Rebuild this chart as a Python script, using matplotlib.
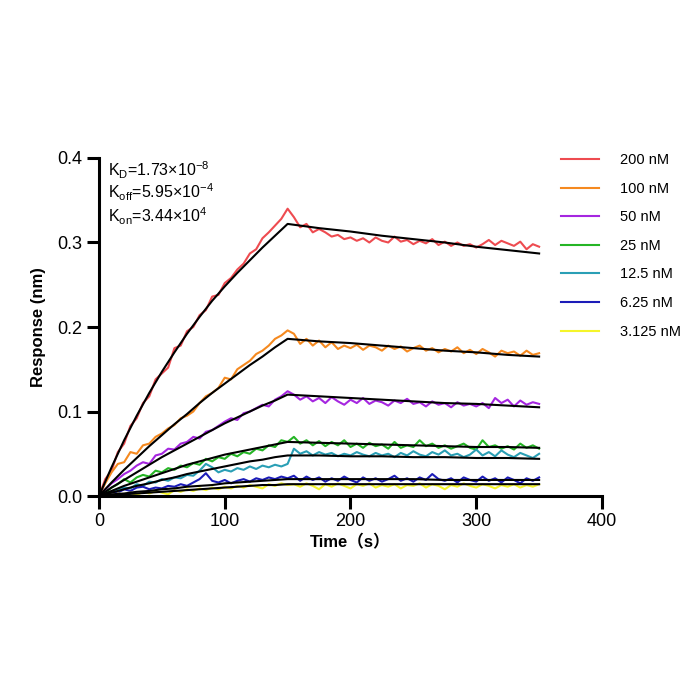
import numpy as np
import matplotlib
matplotlib.use('Agg')
import matplotlib.pyplot as plt

plt.rcParams['font.family'] = ['Liberation Sans', 'Noto Sans CJK SC', 'DejaVu Sans']

# time axis of the measured curves (s)
time = np.arange(0, 351, 5)

r200 = [0.000, 0.020, 0.030, 0.052, 0.062, 0.083, 0.092, 0.110, 0.118, 0.138,
        0.145, 0.152, 0.175, 0.178, 0.195, 0.200, 0.214, 0.220, 0.236, 0.238,
        0.252, 0.258, 0.268, 0.275, 0.287, 0.292, 0.305, 0.312, 0.320, 0.328,
        0.340, 0.330, 0.318, 0.322, 0.312, 0.316, 0.312, 0.307, 0.309, 0.304,
        0.306, 0.302, 0.305, 0.300, 0.306, 0.302, 0.300, 0.307, 0.301, 0.303,
        0.298, 0.302, 0.299, 0.304, 0.297, 0.301, 0.296, 0.300, 0.296, 0.298,
        0.294, 0.298, 0.303, 0.297, 0.302, 0.299, 0.296, 0.301, 0.292, 0.298,
        0.295]
r100 = [0.000, 0.015, 0.028, 0.038, 0.040, 0.052, 0.050, 0.060, 0.062, 0.070,
        0.074, 0.080, 0.084, 0.092, 0.095, 0.100, 0.110, 0.118, 0.122, 0.128,
        0.140, 0.138, 0.150, 0.155, 0.160, 0.168, 0.172, 0.178, 0.186, 0.190,
        0.196, 0.192, 0.180, 0.186, 0.178, 0.184, 0.176, 0.182, 0.174, 0.178,
        0.175, 0.179, 0.173, 0.178, 0.176, 0.172, 0.178, 0.174, 0.177, 0.171,
        0.175, 0.178, 0.172, 0.175, 0.170, 0.174, 0.171, 0.176, 0.169, 0.173,
        0.168, 0.174, 0.170, 0.165, 0.172, 0.169, 0.171, 0.166, 0.172, 0.167,
        0.169]
r50 = [0.000, 0.008, 0.015, 0.020, 0.026, 0.030, 0.036, 0.040, 0.038, 0.048,
       0.050, 0.056, 0.055, 0.062, 0.064, 0.070, 0.068, 0.076, 0.078, 0.083,
       0.088, 0.092, 0.090, 0.098, 0.100, 0.104, 0.108, 0.106, 0.114, 0.118,
       0.124, 0.120, 0.114, 0.118, 0.112, 0.116, 0.110, 0.117, 0.112, 0.108,
       0.114, 0.110, 0.116, 0.109, 0.113, 0.111, 0.107, 0.113, 0.110, 0.115,
       0.109, 0.111, 0.106, 0.112, 0.108, 0.110, 0.105, 0.111, 0.107, 0.109,
       0.106, 0.110, 0.104, 0.116, 0.110, 0.114, 0.106, 0.113, 0.108, 0.111,
       0.109]
r25 = [0.000, 0.004, 0.010, 0.014, 0.020, 0.016, 0.022, 0.025, 0.023, 0.030,
       0.028, 0.033, 0.031, 0.036, 0.034, 0.039, 0.037, 0.044, 0.041, 0.046,
       0.044, 0.050, 0.047, 0.052, 0.050, 0.056, 0.054, 0.060, 0.058, 0.066,
       0.064, 0.070, 0.062, 0.066, 0.060, 0.065, 0.059, 0.064, 0.060, 0.066,
       0.058, 0.062, 0.057, 0.063, 0.059, 0.061, 0.056, 0.064, 0.057, 0.060,
       0.058, 0.066, 0.059, 0.062, 0.057, 0.060, 0.056, 0.059, 0.062, 0.057,
       0.055, 0.066, 0.058, 0.060, 0.056, 0.059, 0.055, 0.062, 0.057, 0.060,
       0.056]
r12 = [0.000, 0.003, 0.005, 0.008, 0.010, 0.009, 0.014, 0.012, 0.017, 0.016,
       0.020, 0.018, 0.022, 0.021, 0.025, 0.024, 0.030, 0.038, 0.034, 0.028,
       0.031, 0.029, 0.033, 0.031, 0.035, 0.032, 0.036, 0.034, 0.037, 0.035,
       0.038, 0.056, 0.050, 0.053, 0.048, 0.052, 0.049, 0.051, 0.047, 0.050,
       0.048, 0.052, 0.049, 0.047, 0.051, 0.048, 0.050, 0.046, 0.051, 0.048,
       0.053, 0.049, 0.047, 0.052, 0.049, 0.054, 0.048, 0.050, 0.046, 0.049,
       0.055, 0.048, 0.052, 0.047, 0.054, 0.049, 0.046, 0.051, 0.048, 0.045,
       0.050]
r6 = [0.000, 0.002, 0.005, 0.004, 0.008, 0.006, 0.010, 0.011, 0.008, 0.010,
      0.009, 0.012, 0.011, 0.014, 0.012, 0.016, 0.020, 0.027, 0.018, 0.016,
      0.019, 0.015, 0.018, 0.020, 0.017, 0.021, 0.019, 0.022, 0.020, 0.023,
      0.021, 0.024, 0.018, 0.023, 0.019, 0.022, 0.017, 0.021, 0.018, 0.023,
      0.019, 0.016, 0.022, 0.018, 0.021, 0.017, 0.020, 0.024, 0.018, 0.021,
      0.017, 0.022, 0.019, 0.026, 0.020, 0.018, 0.021, 0.016, 0.022, 0.019,
      0.017, 0.023, 0.018, 0.021, 0.016, 0.022, 0.019, 0.015, 0.021, 0.018,
      0.022]
r3 = [0.000, 0.001, 0.000, 0.003, 0.002, 0.004, 0.001, 0.005, 0.003, 0.006,
      0.004, 0.002, 0.007, 0.005, 0.008, 0.006, 0.009, 0.007, 0.010, 0.008,
      0.011, 0.009, 0.012, 0.010, 0.013, 0.011, 0.009, 0.014, 0.012, 0.015,
      0.013, 0.014, 0.011, 0.015, 0.012, 0.008, 0.014, 0.011, 0.015, 0.012,
      0.009, 0.014, 0.012, 0.015, 0.010, 0.013, 0.011, 0.014, 0.009, 0.013,
      0.012, 0.015, 0.010, 0.014, 0.012, 0.008, 0.013, 0.011, 0.015, 0.012,
      0.010, 0.014, 0.012, 0.009, 0.013, 0.011, 0.014, 0.010, 0.013, 0.011,
      0.014]

# fitted curves (black)
fit_time = [0, 10, 20, 30, 40, 50, 60, 70, 80, 90, 100, 110, 120, 130, 140, 150,
            175, 200, 225, 250, 275, 300, 325, 350]
f200 = [0, 0.034, 0.066, 0.095, 0.122, 0.147, 0.170, 0.192, 0.212, 0.231, 0.248,
        0.264, 0.279, 0.294, 0.308, 0.322,
        0.317, 0.313, 0.308, 0.304, 0.300, 0.295, 0.291, 0.287]
f100 = [0, 0.016, 0.031, 0.045, 0.059, 0.072, 0.085, 0.097, 0.110, 0.122, 0.133,
        0.144, 0.155, 0.165, 0.176, 0.186,
        0.183, 0.181, 0.178, 0.175, 0.172, 0.170, 0.167, 0.165]
f50 = [0, 0.010, 0.019, 0.028, 0.037, 0.046, 0.054, 0.062, 0.070, 0.078, 0.086,
       0.093, 0.100, 0.107, 0.113, 0.120,
       0.118, 0.116, 0.114, 0.112, 0.110, 0.109, 0.107, 0.105]
f25 = [0, 0.006, 0.012, 0.017, 0.022, 0.027, 0.032, 0.037, 0.041, 0.045, 0.049,
       0.052, 0.055, 0.058, 0.061, 0.064,
       0.063, 0.062, 0.061, 0.060, 0.059, 0.058, 0.058, 0.057]
f12 = [0, 0.004, 0.008, 0.012, 0.015, 0.019, 0.022, 0.026, 0.029, 0.032, 0.035,
       0.038, 0.041, 0.043, 0.046, 0.048,
       0.048, 0.047, 0.047, 0.046, 0.046, 0.045, 0.045, 0.044]
f6 = [0, 0.002, 0.003, 0.005, 0.006, 0.008, 0.009, 0.011, 0.012, 0.013, 0.015,
      0.016, 0.017, 0.018, 0.019, 0.020,
      0.020, 0.020, 0.020, 0.020, 0.019, 0.019, 0.019, 0.019]
f3 = [0, 0.001, 0.002, 0.003, 0.004, 0.005, 0.006, 0.007, 0.008, 0.009, 0.010,
      0.011, 0.012, 0.013, 0.013, 0.014,
      0.014, 0.014, 0.014, 0.014, 0.014, 0.014, 0.014, 0.014]

labels = ['200 nM', '100 nM', '50 nM', '25 nM', '12.5 nM', '6.25 nM', '3.125 nM']
colors = ['#EE4B50', '#F5891F', '#A526E0', '#25B525', '#2A9FB5', '#1C1CB8', '#F5F52A']
measured = [r200, r100, r50, r25, r12, r6, r3]
fits = [f200, f100, f50, f25, f12, f6, f3]

fig = plt.figure(figsize=(7, 7), dpi=100)
ax = fig.add_axes([0.1414, 0.2914, 0.7186, 0.4829])

for y, c, lab in zip(measured, colors, labels):
    ax.plot(time, y, color=c, lw=1.5, label=lab)
for f in fits:
    ax.plot(fit_time, f, color='black', lw=1.5)

ax.set_xlim(0, 400)
ax.set_ylim(0, 0.4)
ax.set_xticks([0, 100, 200, 300, 400])
ax.set_yticks([0.0, 0.1, 0.2, 0.3, 0.4])
ax.set_yticklabels(['0.0', '0.1', '0.2', '0.3', '0.4'])
for s in ['top', 'right']:
    ax.spines[s].set_visible(False)
for s in ['left', 'bottom']:
    ax.spines[s].set_linewidth(2.2)
ax.tick_params(direction='out', length=9, width=2.2, labelsize=13, pad=3)

ax.set_xlabel('Time（s）', fontsize=12, fontweight='bold', labelpad=3)
ax.set_ylabel('Response (nm)', fontsize=12, fontweight='bold', labelpad=8)

ax.text(7, 0.385, r'K$_\mathregular{D}$=1.73×10$^\mathregular{-8}$', fontsize=11.5, va='center')
ax.text(7, 0.359, r'K$_\mathregular{off}$=5.95×10$^\mathregular{-4}$', fontsize=11.5, va='center')
ax.text(7, 0.331, r'K$_\mathregular{on}$=3.44×10$^\mathregular{4}$', fontsize=11.5, va='center')

fig.legend(loc='upper left', bbox_to_anchor=(0.783, 0.80), frameon=False,
           fontsize=10.5, handlelength=2.6, handletextpad=1.4, labelspacing=1.0)

plt.savefig('out.png', dpi=100)
